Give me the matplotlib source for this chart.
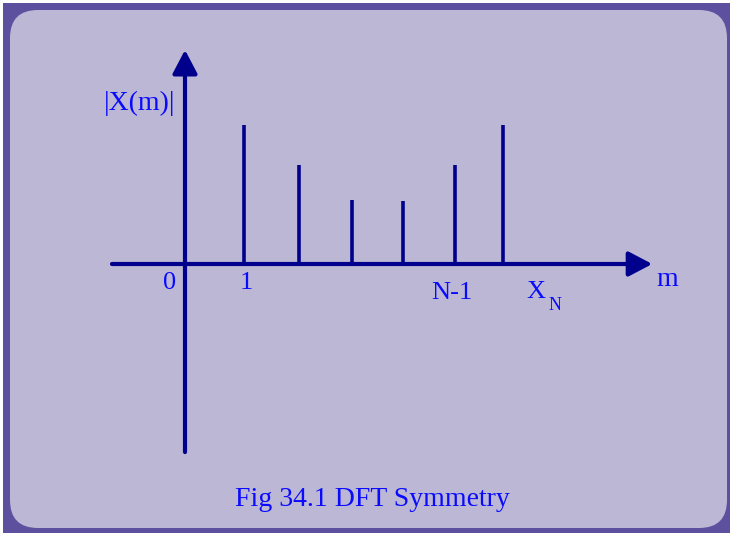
"""DFT symmetry sketch: magnitude stems mirrored about N/2."""

import matplotlib
matplotlib.use("Agg")
import matplotlib.pyplot as plt
from matplotlib.patches import Rectangle, FancyBboxPatch

# stem positions (in bin spacing units from the origin) and magnitudes
m_pos = [1.14, 2.2, 3.22, 4.21, 5.21, 6.14]
magnitudes = [1.0, 0.71, 0.46, 0.45, 0.71, 1.0]
y_label = "|X(m)|"
x_label = "m"
caption = "Fig 34.1 DFT Symmetry"

BORDER = "#5d509f"
PANEL = "#bbb7d5"
NAVY = "#00008c"
BLUE = "#0a0aff"
FONT = "Liberation Serif"

W, H = 731, 535
fig = plt.figure(figsize=(W / 100, H / 100), dpi=100, facecolor="white")

# background frame, in pixel units
bg = fig.add_axes([0, 0, 1, 1])
bg.set_xlim(0, W)
bg.set_ylim(H, 0)
bg.axis("off")
bg.add_patch(Rectangle((3, 3), 727, 530, facecolor=BORDER, edgecolor="none"))
bg.add_patch(FancyBboxPatch((10, 10), 717, 518, boxstyle="round,pad=0,rounding_size=28",
                            facecolor=PANEL, edgecolor="none"))

# main axes: origin at pixel (185, 264), 51.8 px per bin, 139 px per unit magnitude
ax = fig.add_axes([0, 0, 1, 1])
ax.patch.set_alpha(0)
ax.axis("off")
ax.set_xlim(-185 / 51.8, (W - 185) / 51.8)
ax.set_ylim(-(H - 264) / 139, 264 / 139)

arrow = dict(arrowstyle="-|>,head_length=0.8,head_width=0.42", mutation_scale=18,
             lw=3.0, color=NAVY, shrinkA=0, shrinkB=0)
ax.annotate("", xy=(0, 1.54), xytext=(0, -1.353), arrowprops=arrow)
ax.annotate("", xy=(9.02, 0), xytext=(-1.41, 0), arrowprops=arrow)

ax.vlines(m_pos, 0, magnitudes, color=NAVY, lw=2.6)

tkw = dict(color=BLUE, family=FONT, ha="center", va="center")
ax.text(-0.87, 1.158, y_label, fontsize=20, **tkw)
ax.text(-0.29, -0.14, "0", fontsize=19, **tkw)
ax.text(m_pos[0] + 0.04, -0.14, "1", fontsize=19, **tkw)
ax.text(5.16, -0.21, "N-1", fontsize=19, **tkw)
ax.text(6.78, -0.2, "X", fontsize=19, **tkw)
ax.text(7.14, -0.3, "N", fontsize=13, **tkw)
ax.text(9.3, -0.11, x_label, fontsize=20, **tkw)

fig.text(372 / W, 1 - 499 / H, caption, fontsize=20, **tkw)

fig.savefig("out.png", dpi=100, facecolor="white")
